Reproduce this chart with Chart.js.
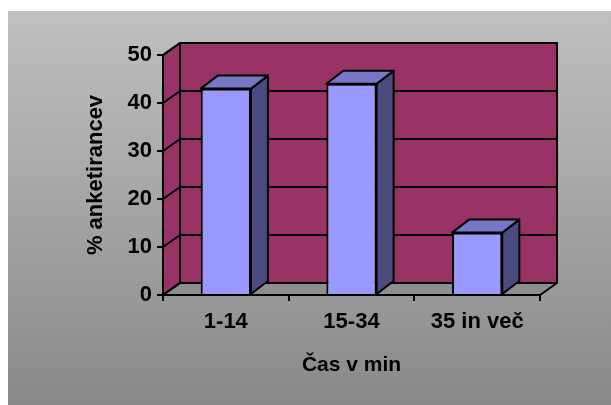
<!DOCTYPE html>
<html>
<head>
<meta charset="utf-8">
<script src="https://cdn.jsdelivr.net/npm/chart.js@4"></script>
<style>
  html, body { margin: 0; padding: 0; background: #fff; }
  #wrap { width: 611px; height: 405px; }
</style>
</head>
<body>
<div id="wrap"><canvas id="casChart"></canvas></div>
<script>
var categories = ["1-14", "15-34", "35 in več"];
var values = [43, 44, 13];
var yTicks = [0, 10, 20, 30, 40, 50];

// depth of the fake 3d walls and bars
var WALL_DX = 17, WALL_DY = -12;
var BAR_DX = 17, BAR_DY = -13;

Chart.defaults.font.family = "'Liberation Sans', Arial, sans-serif";
Chart.defaults.color = "#000";

var panelBg = {
  id: 'panelBg',
  beforeDraw: function(chart) {
    var c = chart.ctx;
    c.save();
    c.fillStyle = '#fff';
    c.fillRect(0, 0, chart.width, chart.height);
    var g = c.createLinearGradient(0, 11, 0, chart.height);
    g.addColorStop(0, '#c0c0c0');
    g.addColorStop(1, '#898989');
    c.fillStyle = g;
    c.fillRect(8, 11, chart.width - 8, chart.height - 11);
    c.restore();
  }
};

function poly(c, pts, fill) {
  c.beginPath();
  c.moveTo(pts[0][0], pts[0][1]);
  for (var i = 1; i < pts.length; i++) c.lineTo(pts[i][0], pts[i][1]);
  c.closePath();
  c.fillStyle = fill;
  c.fill();
  c.stroke();
}

var walls = {
  id: 'walls',
  beforeDatasetsDraw: function(chart) {
    var c = chart.ctx, a = chart.chartArea, ys = chart.scales.y;
    var L = a.left, R = a.right, T = ys.getPixelForValue(50), B = ys.getPixelForValue(0);
    c.save();
    c.strokeStyle = '#000';
    c.lineWidth = 2;
    c.lineJoin = 'round';
    // back wall
    poly(c, [[L + WALL_DX, T + WALL_DY], [R + WALL_DX, T + WALL_DY], [R + WALL_DX, B + WALL_DY], [L + WALL_DX, B + WALL_DY]], '#993366');
    // side wall
    poly(c, [[L, B], [L, T], [L + WALL_DX, T + WALL_DY], [L + WALL_DX, B + WALL_DY]], '#993366');
    // floor
    poly(c, [[L, B], [R, B], [R + WALL_DX, B + WALL_DY], [L + WALL_DX, B + WALL_DY]], '#8e8e8e');
    // gridlines
    yTicks.forEach(function(v) {
      var py = ys.getPixelForValue(v);
      c.beginPath();
      c.moveTo(L, py);
      c.lineTo(L + WALL_DX, py + WALL_DY);
      c.lineTo(R + WALL_DX, py + WALL_DY);
      c.stroke();
    });
    c.restore();
  },
  afterDatasetsDraw: function(chart) {
    var c = chart.ctx;
    c.save();
    c.strokeStyle = '#000';
    c.lineWidth = 2;
    c.lineJoin = 'round';
    chart.getDatasetMeta(0).data.forEach(function(bar) {
      var p = bar.getProps(['x', 'y', 'base', 'width'], true);
      var l = p.x - p.width / 2, r = p.x + p.width / 2;
      poly(c, [[r, p.y], [r + BAR_DX, p.y + BAR_DY], [r + BAR_DX, p.base + BAR_DY], [r, p.base]], '#4b4b80');
      poly(c, [[l, p.y], [l + BAR_DX, p.y + BAR_DY], [r + BAR_DX, p.y + BAR_DY], [r, p.y]], '#7777c8');
    });
    c.restore();
  }
};

var ctx = document.getElementById('casChart').getContext('2d');
var casChart = new Chart(ctx, {
  type: 'bar',
  data: {
    labels: categories,
    datasets: [{
      data: values,
      backgroundColor: '#9999ff',
      borderColor: '#000',
      borderWidth: 2,
      barPercentage: 0.4,
      categoryPercentage: 1
    }]
  },
  options: {
    responsive: true,
    maintainAspectRatio: false,
    animation: false,
    layout: { padding: { left: 83, right: 71, top: 55, bottom: 27 } },
    plugins: { legend: { display: false }, tooltip: { enabled: false } },
    scales: {
      x: {
        afterFit: function(s) { s.height = 83; },
        grid: { drawOnChartArea: false, tickLength: 6, color: '#000', lineWidth: 2 },
        border: { color: '#000', width: 2 },
        ticks: { font: { size: 22, weight: 'bold' }, padding: 8, color: '#000' },
        title: { display: true, text: 'Čas v min', font: { size: 21, weight: 'bold' }, color: '#000', padding: 0 }
      },
      y: {
        min: 0,
        max: 50,
        afterFit: function(s) { s.width = 80; },
        afterBuildTicks: function(s) { s.ticks = yTicks.map(function(v) { return { value: v }; }); },
        grid: { drawOnChartArea: false, tickLength: 6, color: '#000', lineWidth: 2 },
        border: { color: '#000', width: 2 },
        ticks: { font: { size: 22, weight: 'bold' }, padding: 5, color: '#000' },
        title: { display: true, text: '% anketirancev', font: { size: 22, weight: 'bold' }, color: '#000', padding: 0 }
      }
    }
  },
  plugins: [panelBg, walls]
});
</script>
</body>
</html>
